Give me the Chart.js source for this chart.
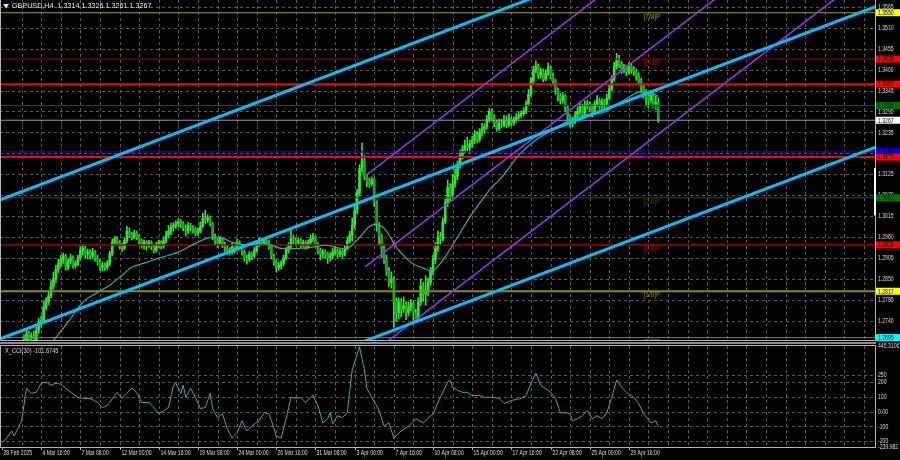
<!DOCTYPE html>
<html>
<head>
<meta charset="utf-8">
<title>GBPUSD H4</title>
<script src="https://cdn.jsdelivr.net/npm/chart.js@4.4.1/dist/chart.umd.min.js"></script>
<style>
  html, body { margin: 0; padding: 0; background: #000; }
  #wrap { position: relative; width: 900px; height: 460px; overflow: hidden; background: #000; }
  #main { position: absolute; left: 0; top: 0; }
  #cci { position: absolute; left: 0; top: 341px; }
</style>
</head>
<body>
<div id="wrap">
  <canvas id="main" width="900" height="341"></canvas>
  <canvas id="cci" width="900" height="119"></canvas>
</div>
<script>
// H4 bars, bar 0 = 28 Feb 2025 00:00, six bars per trading day
const opens = [
  1.2585,1.2600,1.2615,1.2595,1.2575,1.2565, 1.2576,1.2590,1.2620,1.2655,1.2690,1.2705,
  1.2695,1.2700,1.2690,1.2715,1.2735,1.2740, 1.2775,1.2790,1.2805,1.2830,1.2850,1.2875,
  1.2890,1.2900,1.2910,1.2880,1.2895,1.2905, 1.2885,1.2890,1.2905,1.2925,1.2930,1.2915,
  1.2920,1.2910,1.2920,1.2905,1.2895,1.2880, 1.2885,1.2880,1.2890,1.2915,1.2945,1.2955,
  1.2945,1.2935,1.2930,1.2950,1.2975,1.2965, 1.2960,1.2970,1.2960,1.2950,1.2940,1.2945,
  1.2940,1.2945,1.2935,1.2925,1.2940,1.2945, 1.2935,1.2950,1.2965,1.2975,1.2985,1.2990,
  1.2995,1.3000,1.2995,1.2985,1.2975,1.2990, 1.2985,1.2980,1.2970,1.2975,1.2990,1.3010,
  1.3005,1.3010,1.2995,1.2960,1.2950,1.2945, 1.2955,1.2940,1.2930,1.2925,1.2920,1.2935,
  1.2930,1.2945,1.2935,1.2920,1.2905,1.2900, 1.2915,1.2910,1.2925,1.2940,1.2950,1.2945,
  1.2950,1.2945,1.2935,1.2910,1.2895,1.2880, 1.2885,1.2890,1.2905,1.2925,1.2935,1.2955,
  1.2950,1.2945,1.2950,1.2940,1.2945,1.2935, 1.2945,1.2955,1.2960,1.2940,1.2925,1.2915,
  1.2920,1.2915,1.2905,1.2910,1.2920,1.2925, 1.2915,1.2920,1.2915,1.2930,1.2950,1.2965,
  1.2990,1.3030,1.3075,1.3140,1.3160,1.3120, 1.3105,1.3100,1.3110,1.3050,1.2990,1.2960,
  1.2930,1.2900,1.2870,1.2840,1.2850,1.2790, 1.2760,1.2790,1.2770,1.2780,1.2760,1.2775,
  1.2785,1.2760,1.2745,1.2790,1.2830,1.2810, 1.2820,1.2840,1.2870,1.2900,1.2930,1.2960,
  1.2955,1.3000,1.3050,1.3090,1.3070,1.3100, 1.3120,1.3150,1.3175,1.3190,1.3200,1.3195,
  1.3205,1.3215,1.3230,1.3215,1.3235,1.3245, 1.3250,1.3270,1.3290,1.3275,1.3260,1.3245,
  1.3260,1.3255,1.3265,1.3255,1.3270,1.3260, 1.3268,1.3275,1.3280,1.3285,1.3290,1.3310,
  1.3335,1.3370,1.3400,1.3410,1.3385,1.3395, 1.3375,1.3390,1.3405,1.3385,1.3370,1.3345,
  1.3330,1.3320,1.3330,1.3300,1.3275,1.3260, 1.3265,1.3280,1.3290,1.3305,1.3285,1.3305,
  1.3310,1.3300,1.3290,1.3310,1.3320,1.3305, 1.3315,1.3310,1.3325,1.3350,1.3375,1.3410,
  1.3425,1.3415,1.3400,1.3405,1.3395,1.3410, 1.3400,1.3395,1.3385,1.3370,1.3355,1.3340,
  1.3330,1.3320,1.3335,1.3310,1.3314
];
const highs = [
  1.2610,1.2625,1.2620,1.2600,1.2585,1.2582, 1.2598,1.2628,1.2662,1.2702,1.2718,1.2712,
  1.2708,1.2712,1.2722,1.2745,1.2752,1.2790, 1.2800,1.2818,1.2845,1.2868,1.2886,1.2902,
  1.2912,1.2918,1.2914,1.2902,1.2915,1.2910, 1.2898,1.2912,1.2936,1.2940,1.2936,1.2928,
  1.2926,1.2930,1.2924,1.2912,1.2900,1.2894, 1.2892,1.2898,1.2922,1.2955,1.2962,1.2960,
  1.2950,1.2944,1.2958,1.2988,1.2984,1.2972, 1.2978,1.2975,1.2966,1.2955,1.2952,1.2950,
  1.2951,1.2950,1.2940,1.2946,1.2952,1.2950, 1.2960,1.2975,1.2990,1.2996,1.2998,1.3002,
  1.3008,1.3006,1.3000,1.2992,1.2998,1.2996, 1.2990,1.2986,1.2984,1.3000,1.3022,1.3030,
  1.3018,1.3015,1.2998,1.2968,1.2958,1.2962, 1.2958,1.2946,1.2936,1.2932,1.2945,1.2940,
  1.2955,1.2950,1.2940,1.2925,1.2912,1.2922, 1.2920,1.2932,1.2948,1.2958,1.2956,1.2955,
  1.2956,1.2950,1.2940,1.2915,1.2900,1.2893, 1.2898,1.2912,1.2932,1.2945,1.2978,1.2965,
  1.2956,1.2958,1.2955,1.2952,1.2950,1.2952, 1.2965,1.2970,1.2964,1.2945,1.2930,1.2928,
  1.2926,1.2920,1.2918,1.2930,1.2935,1.2930, 1.2928,1.2926,1.2938,1.2960,1.2975,1.3010,
  1.3045,1.3085,1.3150,1.3207,1.3175,1.3125, 1.3115,1.3118,1.3115,1.3055,1.2998,1.2968,
  1.2940,1.2912,1.2880,1.2868,1.2855,1.2800, 1.2800,1.2798,1.2802,1.2790,1.2788,1.2796,
  1.2792,1.2770,1.2800,1.2850,1.2840,1.2858, 1.2852,1.2880,1.2912,1.2945,1.2975,1.2972,
  1.3010,1.3060,1.3110,1.3100,1.3125,1.3140, 1.3160,1.3188,1.3200,1.3215,1.3222,1.3215,
  1.3225,1.3240,1.3238,1.3245,1.3259,1.3258, 1.3280,1.3298,1.3296,1.3282,1.3268,1.3270,
  1.3270,1.3280,1.3278,1.3284,1.3276,1.3276, 1.3285,1.3290,1.3292,1.3300,1.3318,1.3348,
  1.3380,1.3410,1.3423,1.3415,1.3405,1.3402, 1.3400,1.3418,1.3410,1.3392,1.3375,1.3352,
  1.3338,1.3340,1.3335,1.3305,1.3282,1.3275, 1.3290,1.3302,1.3315,1.3310,1.3318,1.3320,
  1.3316,1.3308,1.3318,1.3332,1.3326,1.3324, 1.3322,1.3335,1.3360,1.3385,1.3420,1.3443,
  1.3438,1.3422,1.3415,1.3412,1.3418,1.3415, 1.3408,1.3402,1.3392,1.3378,1.3362,1.3348,
  1.3338,1.3345,1.3340,1.3330,1.3326
];
const lows = [
  1.2580,1.2595,1.2585,1.2560,1.2555,1.2560, 1.2570,1.2585,1.2612,1.2650,1.2682,1.2686,
  1.2688,1.2684,1.2686,1.2706,1.2722,1.2735, 1.2768,1.2782,1.2800,1.2822,1.2840,1.2866,
  1.2880,1.2890,1.2872,1.2874,1.2888,1.2878, 1.2878,1.2884,1.2900,1.2912,1.2905,1.2902,
  1.2902,1.2904,1.2896,1.2886,1.2872,1.2870, 1.2872,1.2874,1.2884,1.2910,1.2936,1.2938,
  1.2928,1.2922,1.2926,1.2944,1.2958,1.2952, 1.2955,1.2952,1.2942,1.2930,1.2928,1.2925,
  1.2933,1.2926,1.2918,1.2920,1.2932,1.2928, 1.2930,1.2944,1.2958,1.2966,1.2976,1.2982,
  1.2986,1.2984,1.2976,1.2962,1.2968,1.2975, 1.2970,1.2962,1.2964,1.2970,1.2985,1.2996,
  1.2998,1.2988,1.2952,1.2940,1.2932,1.2938, 1.2932,1.2922,1.2915,1.2912,1.2915,1.2918,
  1.2925,1.2926,1.2912,1.2896,1.2888,1.2895, 1.2900,1.2905,1.2920,1.2934,1.2938,1.2938,
  1.2938,1.2928,1.2902,1.2885,1.2868,1.2872, 1.2876,1.2884,1.2900,1.2918,1.2930,1.2942,
  1.2936,1.2938,1.2932,1.2934,1.2928,1.2930, 1.2940,1.2948,1.2934,1.2915,1.2900,1.2904,
  1.2905,1.2890,1.2896,1.2902,1.2912,1.2906, 1.2908,1.2904,1.2910,1.2925,1.2944,1.2950,
  1.2982,1.3020,1.3068,1.3130,1.3110,1.3092, 1.3090,1.3094,1.3040,1.2975,1.2940,1.2905,
  1.2890,1.2858,1.2830,1.2825,1.2722,1.2738, 1.2745,1.2750,1.2760,1.2742,1.2752,1.2765,
  1.2740,1.2735,1.2740,1.2780,1.2790,1.2780, 1.2805,1.2832,1.2860,1.2890,1.2922,1.2940,
  1.2950,1.2994,1.3040,1.3055,1.3062,1.3090, 1.3110,1.3140,1.3165,1.3182,1.3185,1.3180,
  1.3196,1.3205,1.3208,1.3210,1.3225,1.3232, 1.3244,1.3262,1.3266,1.3250,1.3238,1.3240,
  1.3248,1.3250,1.3248,1.3250,1.3252,1.3254, 1.3262,1.3270,1.3274,1.3278,1.3284,1.3305,
  1.3330,1.3362,1.3392,1.3376,1.3378,1.3368, 1.3370,1.3384,1.3376,1.3360,1.3335,1.3318,
  1.3310,1.3312,1.3290,1.3262,1.3248,1.3250, 1.3258,1.3270,1.3282,1.3276,1.3280,1.3296,
  1.3290,1.3276,1.3284,1.3302,1.3296,1.3298, 1.3300,1.3305,1.3320,1.3344,1.3370,1.3402,
  1.3405,1.3390,1.3392,1.3384,1.3388,1.3390, 1.3384,1.3372,1.3360,1.3340,1.3325,1.3305,
  1.3300,1.3312,1.3298,1.3295,1.3261
];
const closes = [
  1.2600,1.2615,1.2595,1.2575,1.2565,1.2576, 1.2590,1.2620,1.2655,1.2690,1.2705,1.2695,
  1.2700,1.2690,1.2715,1.2735,1.2740,1.2775, 1.2790,1.2805,1.2830,1.2850,1.2875,1.2890,
  1.2900,1.2910,1.2880,1.2895,1.2905,1.2885, 1.2890,1.2905,1.2925,1.2930,1.2915,1.2920,
  1.2910,1.2920,1.2905,1.2895,1.2880,1.2885, 1.2880,1.2890,1.2915,1.2945,1.2955,1.2945,
  1.2935,1.2930,1.2950,1.2975,1.2965,1.2960, 1.2970,1.2960,1.2950,1.2940,1.2945,1.2940,
  1.2945,1.2935,1.2925,1.2940,1.2945,1.2935, 1.2950,1.2965,1.2975,1.2985,1.2990,1.2995,
  1.3000,1.2995,1.2985,1.2975,1.2990,1.2985, 1.2980,1.2970,1.2975,1.2990,1.3010,1.3005,
  1.3010,1.2995,1.2960,1.2950,1.2945,1.2955, 1.2940,1.2930,1.2925,1.2920,1.2935,1.2930,
  1.2945,1.2935,1.2920,1.2905,1.2900,1.2915, 1.2910,1.2925,1.2940,1.2950,1.2945,1.2950,
  1.2945,1.2935,1.2910,1.2895,1.2880,1.2885, 1.2890,1.2905,1.2925,1.2935,1.2955,1.2950,
  1.2945,1.2950,1.2940,1.2945,1.2935,1.2945, 1.2955,1.2960,1.2940,1.2925,1.2915,1.2920,
  1.2915,1.2905,1.2910,1.2920,1.2925,1.2915, 1.2920,1.2915,1.2930,1.2950,1.2965,1.2990,
  1.3030,1.3075,1.3140,1.3160,1.3120,1.3105, 1.3100,1.3110,1.3050,1.2990,1.2960,1.2930,
  1.2900,1.2870,1.2840,1.2850,1.2790,1.2760, 1.2790,1.2770,1.2780,1.2760,1.2775,1.2785,
  1.2760,1.2745,1.2790,1.2830,1.2810,1.2820, 1.2840,1.2870,1.2900,1.2930,1.2960,1.2955,
  1.3000,1.3050,1.3090,1.3070,1.3100,1.3120, 1.3150,1.3175,1.3190,1.3200,1.3195,1.3205,
  1.3215,1.3230,1.3215,1.3235,1.3245,1.3250, 1.3270,1.3290,1.3275,1.3260,1.3245,1.3260,
  1.3255,1.3265,1.3255,1.3270,1.3260,1.3268, 1.3275,1.3280,1.3285,1.3290,1.3310,1.3335,
  1.3370,1.3400,1.3410,1.3385,1.3395,1.3375, 1.3390,1.3405,1.3385,1.3370,1.3345,1.3330,
  1.3320,1.3330,1.3300,1.3275,1.3260,1.3265, 1.3280,1.3290,1.3305,1.3285,1.3305,1.3310,
  1.3300,1.3290,1.3310,1.3320,1.3305,1.3315, 1.3310,1.3325,1.3350,1.3375,1.3410,1.3425,
  1.3415,1.3400,1.3405,1.3395,1.3410,1.3400, 1.3395,1.3385,1.3370,1.3355,1.3340,1.3330,
  1.3320,1.3335,1.3310,1.3314,1.3267
];

// moving average (thin cyan line), sampled along the curve
const maBars = [20,27,33,39,44,49,53,59,64,72,79,84,90,94,100,107,114,121,127,132,
  141,146,151,156,161,167,172,176,180,186,191,196,200,203,207,211,218,226,233,240,
  245,250,256,260,265,268];
const maValues = [1.2680,1.2736,1.2788,1.2814,1.2833,1.2859,1.2880,1.2893,1.2904,1.2920,
  1.2943,1.2957,1.2957,1.2946,1.2938,1.2943,1.2930,1.2930,1.2933,1.2938,
  1.2930,1.2959,1.2991,1.2983,1.2933,1.2893,1.2878,1.2872,1.2899,1.2959,
  1.3012,1.3057,1.3091,1.3109,1.3141,1.3175,1.3215,1.3246,1.3272,1.3283,
  1.3286,1.3304,1.3328,1.3341,1.3338,1.3330];

// CCI(30) sub-window
const cciBars = [0,2,4,5,7,8,10,12,14,16,18,20,22,24,27,31,33,36,39,41,43,46,47,49,51,53,55,57,60,62,
  64,66,68,70,71,73,74,75,77,79,81,83,85,86,88,90,92,94,96,98,100,102,105,107,109,111,112,114,116,118,
  120,122,124,126,127,129,131,133,134,135,137,139,141,143,146,148,149,151,154,156,158,160,163,165,167,169,172,176,179,182,
  183,184,186,188,190,192,195,197,200,203,205,208,212,214,216,218,220,223,224,226,228,230,232,233,235,237,239,241,243,245,
  247,249,251,253,255,258,260,262,265,267,268];
const cciValues = [-212,-177,-131,-166,-97,-62,159,124,131,193,200,179,193,186,145,97,90,90,62,28,41,110,131,90,124,159,131,62,62,28,
  -14,7,28,179,193,124,179,97,159,97,21,28,124,21,-41,-14,-117,-179,-145,-62,-131,-97,-62,-7,-14,-110,-166,-179,-48,97,
  90,97,62,97,110,41,-76,-48,-7,-83,-28,-41,-7,283,440,283,159,97,7,-97,-76,-179,-131,-110,-83,-48,-76,-14,97,200,
  214,166,145,131,131,110,110,97,97,90,55,76,90,110,193,262,179,145,131,90,-7,-7,-14,-62,-48,-28,7,-48,-28,-48,
  -7,97,214,166,131,97,55,-14,-76,-62,-101.6745];
const cciTicks = [445.3106, 250, 200, 100, 0, -100, -200, -239.982];
const cciTickLabels = ['445.3106', '250', '200', '100', '0.00', '-100', '-200', '-239.982'];
const cciLevels = [250, 200, 100, 0, -100, -200];

// price axis and time axis labels
const priceTicks = [1.3565,1.3510,1.3455,1.3400,1.3345,1.3290,1.3235,1.3180,1.3125,
  1.3070,1.3015,1.2960,1.2905,1.2850,1.2795,1.2740,1.2685];
const timeLabelBars = [0,16,32,48,64,80,96,112,128,144,160,176,192,208,224,240,256];
const timeLabels = ['28 Feb 2025','4 Mar 16:00','7 Mar 08:00','12 Mar 00:00','14 Mar 16:00',
  '19 Mar 08:00','24 Mar 00:00','26 Mar 16:00','31 Mar 08:00','3 Apr 00:00','7 Apr 16:00',
  '10 Apr 08:00','15 Apr 00:00','17 Apr 16:00','22 Apr 08:00','25 Apr 00:00','29 Apr 16:00'];

// horizontal levels (Murrey math + marked levels + bid)
const levelPrices = [1.3550,1.3428,1.3362,1.3306,1.3267,1.3184,1.3170,1.3063,1.2939,1.2817,1.2695];
const levelTags = ['[7/8]P','[6/8]P','','[5/8]P','','[4/8]P','','[3/8]P','[2/8]P','[1/8]P','[0/8]P'];
const levelTagBar = 262;

// trend channels, as [bar, price] end points
const blueLines = [
  [[-1, 1.3057], [360, 1.3939]],
  [[-1, 1.2691], [360, 1.3574]],
  [[140, 1.2666], [360, 1.3204]]
];
const purpleLines = [
  [[148.2, 1.3120], [260, 1.3672]],
  [[148.2, 1.2881], [330, 1.3777]],
  [[148.2, 1.2640], [360, 1.3684]]
];
const shiftMarker = [1.3141, 1.3017];

// ---- styles ----
const FONT = "'Liberation Sans', Arial, sans-serif";
const FSIZE = 6.4;
const NARROW = 0.8;
const TXT = '#dcdcdc';
const GRID = '#5a5a5a';
const FRAME = '#b4b4b4';
const BULL = '#2ee82e';
const BEAR = '#1ba81b';
const levelColors = ['#9a9a00','#b00000','#ff0000','#006400','#9a9a9a','#0000ff','#ff0000','#006400','#b40000','#8c8c00','#1aa5a5'];
const levelWidths = [1, 1, 2, 1, 1, 1.2, 2, 1, 1.5, 2, 1];
const levelBoxColors = ['#ffff00','#ff0000','#ff0000','#007000','#ffffff','#0000ff','#ff0000','#007800','#ff0000','#ffff00','#00ffff'];
const X_MIN = -0.82, X_MAX = 356.5;

const last = closes.length - 1;

// terminal fonts are narrower than Liberation Sans, squeeze horizontally
function narrowText(ctx, text, x, y, sx) {
  ctx.save();
  ctx.translate(x, y);
  ctx.scale(sx, 1);
  ctx.fillText(text, 0, 0);
  ctx.restore();
}

function drawGrid(chart, hValues) {
  const { ctx, chartArea: a, scales: { x, y } } = chart;
  ctx.save();
  ctx.beginPath();
  ctx.rect(a.left, a.top, a.right - a.left, a.bottom - a.top);
  ctx.clip();
  ctx.strokeStyle = GRID;
  ctx.lineWidth = 1;
  ctx.setLineDash([3, 3]);
  ctx.beginPath();
  for (let b = 8; x.getPixelForValue(b) < a.right; b += 8) {
    const px = Math.round(x.getPixelForValue(b)) + 0.5;
    ctx.moveTo(px, a.top);
    ctx.lineTo(px, a.bottom);
  }
  hValues.forEach(v => {
    const py = Math.round(y.getPixelForValue(v)) + 0.5;
    ctx.moveTo(a.left, py);
    ctx.lineTo(a.right, py);
  });
  ctx.stroke();
  ctx.restore();
}

function drawAxisLabels(chart, values, labels) {
  const { ctx, chartArea: a, scales: { y } } = chart;
  ctx.save();
  ctx.font = `${FSIZE}px ${FONT}`;
  ctx.fillStyle = TXT;
  ctx.textBaseline = 'middle';
  values.forEach((v, i) => narrowText(ctx, labels[i], a.right + 3, y.getPixelForValue(v) + 0.5, NARROW));
  ctx.restore();
}

function fillBlack(chart) {
  const { ctx, width, height } = chart;
  ctx.save();
  ctx.fillStyle = '#000';
  ctx.fillRect(0, 0, width, height);
  ctx.restore();
}

const mainDecor = {
  id: 'mainDecor',
  beforeDraw: fillBlack,
  beforeDatasetsDraw(chart) { drawGrid(chart, priceTicks); },
  afterDatasetsDraw(chart) {
    const { ctx, scales: { x, y } } = chart;
    ctx.save();
    ctx.font = `${FSIZE}px ${FONT}`;
    ctx.textBaseline = 'top';
    levelTags.forEach((t, i) => {
      if (!t) return;
      ctx.fillStyle = levelColors[i];
      ctx.fillText(t, x.getPixelForValue(levelTagBar), y.getPixelForValue(levelPrices[i]) + 1);
    });
    ctx.restore();
  },
  afterDraw(chart) {
    const { ctx, chartArea: a, scales: { y } } = chart;
    drawAxisLabels(chart, priceTicks, priceTicks.map(v => v.toFixed(4)));
    ctx.save();
    // frame
    ctx.strokeStyle = FRAME;
    ctx.lineWidth = 1;
    ctx.beginPath();
    ctx.moveTo(0.5, 0); ctx.lineTo(0.5, a.bottom + 0.5);
    ctx.lineTo(a.right + 0.5, a.bottom + 0.5); ctx.lineTo(a.right + 0.5, 0);
    ctx.stroke();
    // chart shift marker
    ctx.fillStyle = '#fff';
    const m0 = y.getPixelForValue(shiftMarker[0]), m1 = y.getPixelForValue(shiftMarker[1]);
    ctx.fillRect(a.right - 1, m0, 2, m1 - m0);
    // price boxes on the axis
    ctx.font = `${FSIZE}px ${FONT}`;
    ctx.textBaseline = 'middle';
    levelPrices.forEach((p, i) => {
      const py = y.getPixelForValue(p);
      ctx.fillStyle = levelBoxColors[i];
      ctx.fillRect(a.right + 1, py - 3.5, 24, 7);
      ctx.fillStyle = '#000';
      narrowText(ctx, p.toFixed(4), a.right + 3, py + 0.5, NARROW);
    });
    // symbol header
    ctx.fillStyle = '#e6e6e6';
    ctx.beginPath();
    ctx.moveTo(3, 4); ctx.lineTo(9, 4); ctx.lineTo(6, 8.5); ctx.closePath();
    ctx.fill();
    const ohlc = [opens[last], highs[last], lows[last], closes[last]].map(v => v.toFixed(4)).join(' ');
    ctx.font = `7.2px ${FONT}`;
    ctx.fillText('GBPUSD,H4  ' + ohlc, 12, 6.5);
    ctx.restore();
  }
};

const cciDecor = {
  id: 'cciDecor',
  beforeDraw(chart) {
    fillBlack(chart);
    const { ctx, chartArea: a } = chart;
    ctx.save();
    ctx.fillStyle = '#8a8a8a';
    ctx.fillRect(0, 1, a.right + 1, 2);
    ctx.restore();
  },
  beforeDatasetsDraw(chart) { drawGrid(chart, cciLevels); },
  afterDraw(chart) {
    const { ctx, chartArea: a, scales: { x } } = chart;
    drawAxisLabels(chart, cciTicks, cciTickLabels);
    ctx.save();
    ctx.strokeStyle = FRAME;
    ctx.lineWidth = 1;
    ctx.strokeRect(0.5, a.top - 0.5, a.right, a.bottom - a.top + 1);
    ctx.font = `${FSIZE}px ${FONT}`;
    ctx.fillStyle = TXT;
    ctx.textBaseline = 'top';
    narrowText(ctx, 'X_CCI(30) ' + cciValues[cciValues.length - 1].toFixed(4), 5, a.top + 2, 0.88);
    ctx.beginPath();
    timeLabelBars.forEach((b, i) => {
      const px = Math.round(x.getPixelForValue(b)) + 0.5;
      ctx.moveTo(px, a.bottom);
      ctx.lineTo(px, a.bottom + 3);
      narrowText(ctx, timeLabels[i], px + 1, a.bottom + 3, NARROW);
    });
    ctx.stroke();
    ctx.restore();
  }
};

const candleColor = c => closes[c.dataIndex] >= opens[c.dataIndex] ? BULL : BEAR;
const linePoints = pts => pts.map(p => ({ x: p[0], y: p[1] }));

const mainSets = [];
blueLines.forEach(l => mainSets.push({
  type: 'line', data: linePoints(l), borderColor: '#00bfff', borderWidth: 3, pointRadius: 0, order: 1
}));
purpleLines.forEach(l => mainSets.push({
  type: 'line', data: linePoints(l), borderColor: '#9433ee', borderWidth: 1.6, pointRadius: 0, order: 1
}));
mainSets.push({
  type: 'line', data: maBars.map((b, i) => ({ x: b, y: maValues[i] })),
  borderColor: '#20b2aa', borderWidth: 1.2, pointRadius: 0, tension: 0.35, order: 2
});
levelPrices.forEach((p, i) => mainSets.push({
  type: 'line', data: [{ x: X_MIN - 5, y: p }, { x: X_MAX + 5, y: p }],
  borderColor: levelColors[i], borderWidth: levelWidths[i], pointRadius: 0, order: 3
}));
mainSets.push({
  type: 'bar', data: closes.map((c, i) => ({ x: i, y: [opens[i], c] })),
  backgroundColor: candleColor, barThickness: 2, minBarLength: 1, grouped: false, order: 4
});
mainSets.push({
  type: 'bar', data: highs.map((h, i) => ({ x: i, y: [lows[i], h] })),
  backgroundColor: BULL, barThickness: 1, grouped: false, order: 5
});

const axisY = (min, max, ticks) => ({
  type: 'linear', position: 'right', min, max,
  afterBuildTicks: s => { s.ticks = ticks.map(v => ({ value: v })); },
  afterFit: s => { s.width = 25; },
  grid: { display: false, drawTicks: false },
  border: { display: false },
  ticks: { display: false }
});

new Chart(document.getElementById('main'), {
  type: 'bar',
  data: { datasets: mainSets },
  options: {
    responsive: false,
    animation: false,
    events: [],
    layout: { padding: { left: 0, right: 0, top: 0, bottom: 1 } },
    plugins: { legend: { display: false }, tooltip: { enabled: false } },
    scales: {
      x: { type: 'linear', min: X_MIN, max: X_MAX, display: false, offset: false },
      y: axisY(1.26887, 1.35834, priceTicks)
    }
  },
  plugins: [mainDecor]
});

new Chart(document.getElementById('cci'), {
  type: 'line',
  data: {
    datasets: [{
      data: cciBars.map((b, i) => ({ x: b, y: cciValues[i] })),
      borderColor: '#20b2aa', borderWidth: 1, pointRadius: 0, tension: 0
    }]
  },
  options: {
    responsive: false,
    animation: false,
    events: [],
    layout: { padding: { left: 0, right: 0, top: 5, bottom: 13 } },
    plugins: { legend: { display: false }, tooltip: { enabled: false } },
    scales: {
      x: { type: 'linear', min: X_MIN, max: X_MAX, display: false },
      y: axisY(-239.982, 445.3106, cciTicks)
    }
  },
  plugins: [cciDecor]
});
</script>
</body>
</html>
